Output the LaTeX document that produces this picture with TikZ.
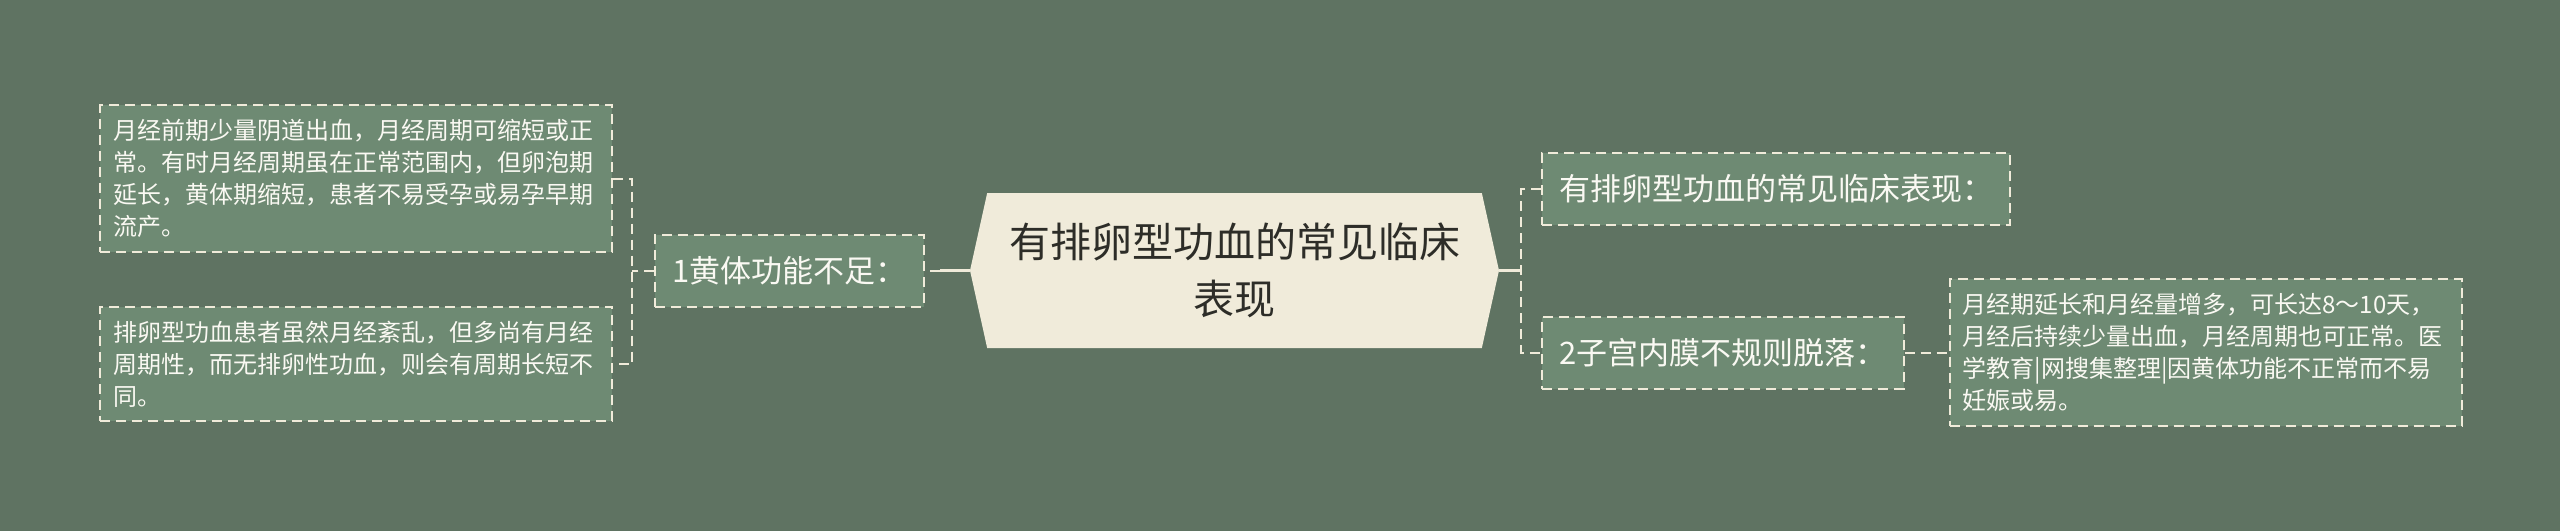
\documentclass[tikz,border=0pt]{standalone}
\usepackage{fontspec}
\setmainfont{Noto Sans CJK SC}
\usetikzlibrary{positioning,shapes.symbols}

\definecolor{bgcol}{RGB}{95,115,98}
\definecolor{nodefill}{RGB}{110,138,115}
\definecolor{rootfill}{RGB}{240,235,218}
\definecolor{linecol}{RGB}{240,235,218}
\definecolor{roottext}{RGB}{45,45,40}
\definecolor{nodetext}{RGB}{250,249,243}

\begin{document}
\begin{tikzpicture}[x=0.5pt,y=-0.5pt,
  rootnode/.style={shape=signal,signal to=east and west,signal pointer angle=155,
    fill=rootfill,text=roottext,minimum width=264.5pt,minimum height=77.5pt,
    align=center,font=\fontsize{20.5pt}{28.5pt}\selectfont},
  topic/.style={draw=linecol,line width=1pt,dash pattern=on 5pt off 3pt,
    fill=nodefill,text=nodetext,inner xsep=8.5pt,minimum height=36pt,
    font=\fontsize{15.5pt}{20pt}\selectfont},
  leaf/.style={draw=linecol,line width=1pt,dash pattern=on 5pt off 3pt,
    fill=nodefill,text=nodetext,text width=243pt,inner xsep=6.5pt,inner ysep=7pt,
    align=left,font=\fontsize{12pt}{16pt}\selectfont},
  dashline/.style={draw=linecol,line width=1pt,dash pattern=on 5pt off 3pt},
  rootline/.style={draw=linecol,line width=1.3pt}]

  \fill[bgcol] (0,0) rectangle (2560,531);
  \useasboundingbox (0,0) rectangle (2560,531);

  \node[rootnode] (root) at (1234.5,270.5) {有排卵型功血的常见临床\\表现};

  % left branch
  \node[topic] (b1) [left=22.5pt of root] {1黄体功能不足：};
  \node[leaf] (l1) [left=20.5pt of b1,yshift=46pt]
    {月经前期少量阴道出血，月经周期可缩短或正\\常。有时月经周期虽在正常范围内，但卵泡期\\延长，黄体期缩短，患者不易受孕或易孕早期\\流产。};
  \node[leaf] (l2) [left=20.5pt of b1,yshift=-46.75pt]
    {排卵型功血患者虽然月经紊乱，但多尚有月经\\周期性，而无排卵性功血，则会有周期长短不\\同。};

  % right branch
  \node[topic] (r1) [right=21pt of root,yshift=40.75pt] {有排卵型功血的常见临床表现：};
  \node[topic] (r2) [right=21pt of root,yshift=-41pt] {2子宫内膜不规则脱落：};
  \node[leaf] (l3) [right=22pt of r2]
    {月经期延长和月经量增多，可长达8～10天，\\月经后持续少量出血，月经周期也可正常。医\\学教育|网搜集整理|因黄体功能不正常而不易\\妊娠或易。};

  \coordinate (j1) at ([xshift=-15pt]root.west);
  \coordinate (k1) at ([xshift=-11pt]b1.west);
  \coordinate (k2) at ([xshift=11pt]root.east);

  \draw[rootline] (root.west) -- (j1);
  \draw[dashline] (j1) -- (b1.east);
  \draw[dashline] (b1.west) -- (k1);
  \draw[dashline] (l1.east) -| (k1) |- (l2.east);

  \draw[rootline] (root.east) -- (k2);
  \draw[dashline] (r1.west) -| (k2) |- (r2.west);
  \draw[dashline] (r2.east) -- (l3.west);
\end{tikzpicture}
\end{document}
